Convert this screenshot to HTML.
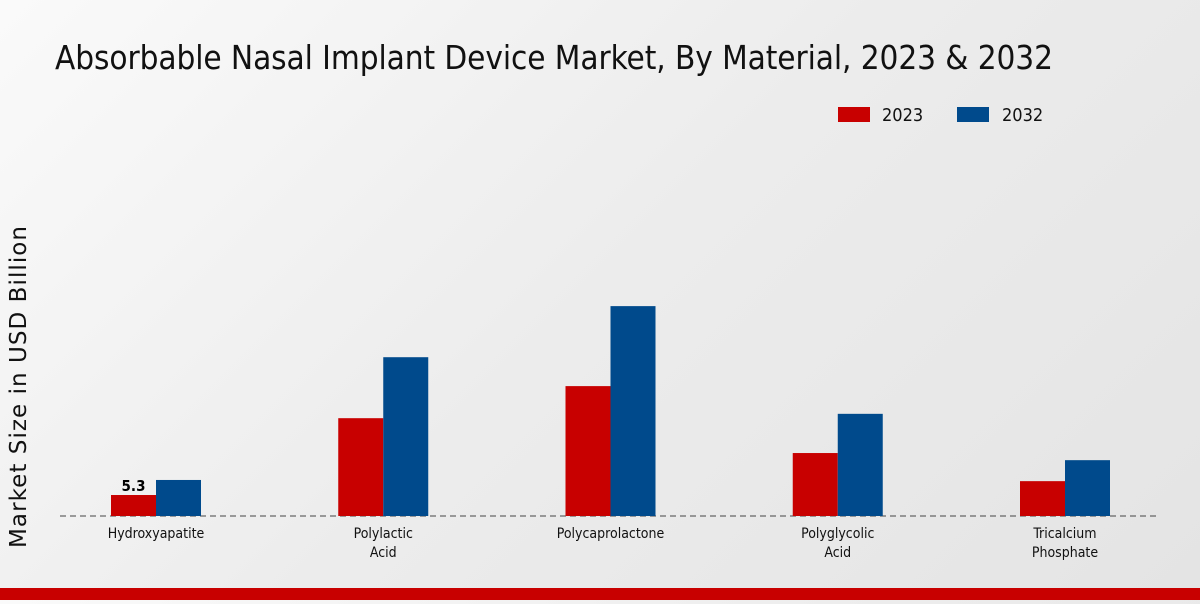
<!DOCTYPE html>
<html><head><meta charset="utf-8"><style>
body{margin:0;width:1200px;height:600px;overflow:hidden;background:linear-gradient(135deg,#fafafa 0%,#ececec 50%,#e4e4e4 100%);font-family:"DejaVu Sans Condensed","DejaVu Sans","Liberation Sans",sans-serif;font-stretch:condensed;}
svg text{font-family:"DejaVu Sans Condensed","DejaVu Sans","Liberation Sans",sans-serif;font-stretch:condensed;}
svg text.ytitle{font-family:"DejaVu Sans","Liberation Sans",sans-serif;font-stretch:normal;}
</style></head><body>
<svg id="chart" width="1200" height="600">
<text x="55" y="69" font-size="33" fill="#111" textLength="998">Absorbable Nasal Implant Device Market, By Material, 2023 &amp; 2032</text>
<g>
<rect x="838" y="107" width="32" height="15" fill="#c80000"/>
<text x="882" y="121" font-size="18" fill="#111">2023</text>
<rect x="957" y="107" width="32" height="15" fill="#004a8c"/>
<text x="1002" y="121" font-size="18" fill="#111">2032</text>
</g>
<text class="ytitle" transform="translate(26,387) rotate(-90)" text-anchor="middle" font-size="23" fill="#111" textLength="322">Market Size in USD Billion</text>
<line x1="60" y1="516" x2="1160" y2="516" stroke="#444" stroke-dasharray="6,4"/>
<g id="bars"></g>
<rect x="0" y="588" width="1200" height="12" fill="#c80000"/>
</svg>
<script>
const categories=[["Hydroxyapatite"],["Polylactic","Acid"],["Polycaprolactone"],["Polyglycolic","Acid"],["Tricalcium","Phosphate"]];
const values2023=[5.3,24.7,32.8,15.9,8.8];
const values2032=[9.1,40.1,53.0,25.8,14.1];
const labels2023=["5.3","","","",""];
const ns="http://www.w3.org/2000/svg";
const g=document.getElementById('bars');
const base=516, scale=3.96, bw=45;
function xc(i){return 156+i*227.25;}
function y(v){return base-v*scale;}
categories.forEach((c,i)=>{
  const cx=xc(i);
  [[values2023,"#c80000",-bw,"2023"],[values2032,"#004a8c",0,"2032"]].forEach(([arr,col,off,yr])=>{
    const r=document.createElementNS(ns,'rect');
    r.setAttribute('x',cx+off);r.setAttribute('y',y(arr[i]));
    r.setAttribute('width',bw);r.setAttribute('height',base-y(arr[i]));
    r.setAttribute('fill',col);
    
    
    g.appendChild(r);
  });
  if(labels2023[i]){
    const t=document.createElementNS(ns,'text');
    t.setAttribute('x',cx-bw/2);t.setAttribute('y',y(values2023[i])-4);
    t.setAttribute('text-anchor','middle');t.setAttribute('font-size','15');t.setAttribute('font-weight','bold');
    t.textContent=labels2023[i];
    
    
    g.appendChild(t);
  }
  c.forEach((line,j)=>{
    const t=document.createElementNS(ns,'text');
    t.setAttribute('x',cx);t.setAttribute('y',538+j*19);
    t.setAttribute('text-anchor','middle');t.setAttribute('font-size','14');t.setAttribute('fill','#111');
    t.textContent=line;
    
    
    g.appendChild(t);
  });
});
</script>
</body></html>
